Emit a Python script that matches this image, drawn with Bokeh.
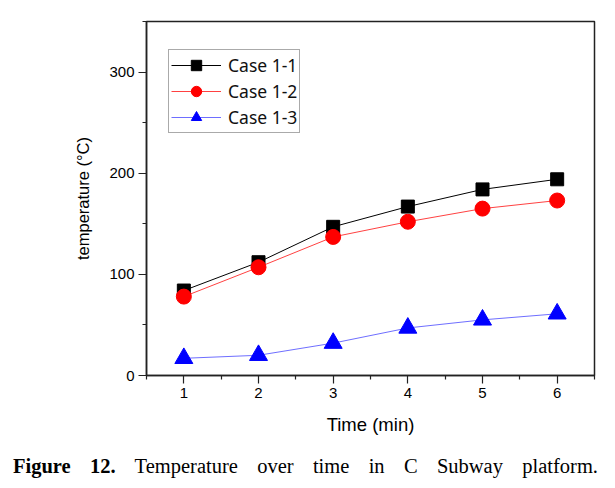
from bokeh.plotting import figure
from bokeh.models import Range1d, FixedTicker, Legend, LegendItem, Div
from bokeh.layouts import column
from bokeh.embed import file_html
from bokeh.resources import INLINE

time_min = [1, 2, 3, 4, 5, 6]
case_1_1 = [84, 112, 147, 167, 184, 194]
case_1_2 = [78, 107, 137, 152, 165, 173]
case_1_3 = [17, 20, 32, 47, 55, 61]
x_ticks = [1, 2, 3, 4, 5, 6]
y_ticks = [0, 100, 200, 300]

p = figure(frame_width=448, frame_height=354, width=608, height=438,
           min_border_left=146, min_border_right=14, min_border_top=21, min_border_bottom=63,
           x_range=Range1d(0.5, 6.5), y_range=Range1d(0, 350),
           output_backend="svg", toolbar_location=None,
           background_fill_color="white", border_fill_color="white")
p.grid.visible = False
p.outline_line_color = "#222222"
p.outline_line_width = 1.5

p.xaxis.ticker = FixedTicker(ticks=x_ticks, minor_ticks=[0.5, 1.5, 2.5, 3.5, 4.5, 5.5, 6.5])
p.yaxis.ticker = FixedTicker(ticks=y_ticks, minor_ticks=[50, 150, 250, 350])
for ax in (p.xaxis[0], p.yaxis[0]):
    ax.axis_line_color = "#222222"
    ax.axis_line_width = 1.5
    ax.major_tick_line_color = "#222222"
    ax.minor_tick_line_color = "#222222"
    ax.major_tick_line_width = 1.2
    ax.minor_tick_line_width = 1.2
    ax.major_tick_out = 8
    ax.major_tick_in = 0
    ax.minor_tick_out = 4
    ax.minor_tick_in = 0
    ax.major_label_text_font = "Liberation Sans"
    ax.major_label_text_font_size = "15px"
    ax.major_label_text_color = "black"
    ax.axis_label_text_font = "Liberation Sans"
    ax.axis_label_text_font_style = "normal"
    ax.axis_label_text_color = "black"
    ax.major_label_standoff = 4
p.xaxis.axis_label = "Time (min)"
p.yaxis.axis_label = "temperature (\u00b0C)"
p.xaxis.axis_label_text_font_size = "18.5px"
p.yaxis.axis_label_text_font_size = "16.5px"
p.xaxis.axis_label_standoff = 13
p.yaxis.axis_label_standoff = 14

l1 = p.line(time_min, case_1_1, line_color="black", line_width=1)
s1 = p.scatter(time_min, case_1_1, marker="square", size=13, fill_color="black", line_color="black")
l2 = p.line(time_min, case_1_2, line_color="#ff2020", line_width=1, line_alpha=0.85)
s2 = p.scatter(time_min, case_1_2, marker="circle", size=15, fill_color="red", line_color="red")
l3 = p.line(time_min, case_1_3, line_color="#3030ff", line_width=1, line_alpha=0.7)
s3 = p.scatter(time_min, case_1_3, marker="triangle", size=18, fill_color="blue", line_color="blue")

legend = Legend(items=[
    LegendItem(label="Case 1-1", renderers=[l1, s1]),
    LegendItem(label="Case 1-2", renderers=[l2, s2]),
    LegendItem(label="Case 1-3", renderers=[l3, s3]),
], location=(22, 242))
legend.border_line_color = "#555555"
legend.border_line_width = 1
legend.padding = 2
legend.spacing = 0
legend.margin = 0
legend.glyph_width = 50
legend.glyph_height = 26
legend.label_height = 26
legend.label_standoff = 7
legend.label_text_font = "Noto Sans"
legend.label_text_font_size = "17.5px"
legend.label_text_color = "#111111"
legend.background_fill_alpha = 1
p.add_layout(legend, "center")

caption = Div(text='<div style="width:585px;margin-left:8px;margin-top:9px;text-align:justify;'
                   'text-align-last:justify;font-family:\'Liberation Serif\';font-size:20.5px;color:black;">'
                   '<b>Figure 12.</b> Temperature over time in C Subway platform.</div>',
              width=608, height=40)

layout = column(p, caption, spacing=0)
open("out.html", "w").write(file_html(layout, INLINE))
